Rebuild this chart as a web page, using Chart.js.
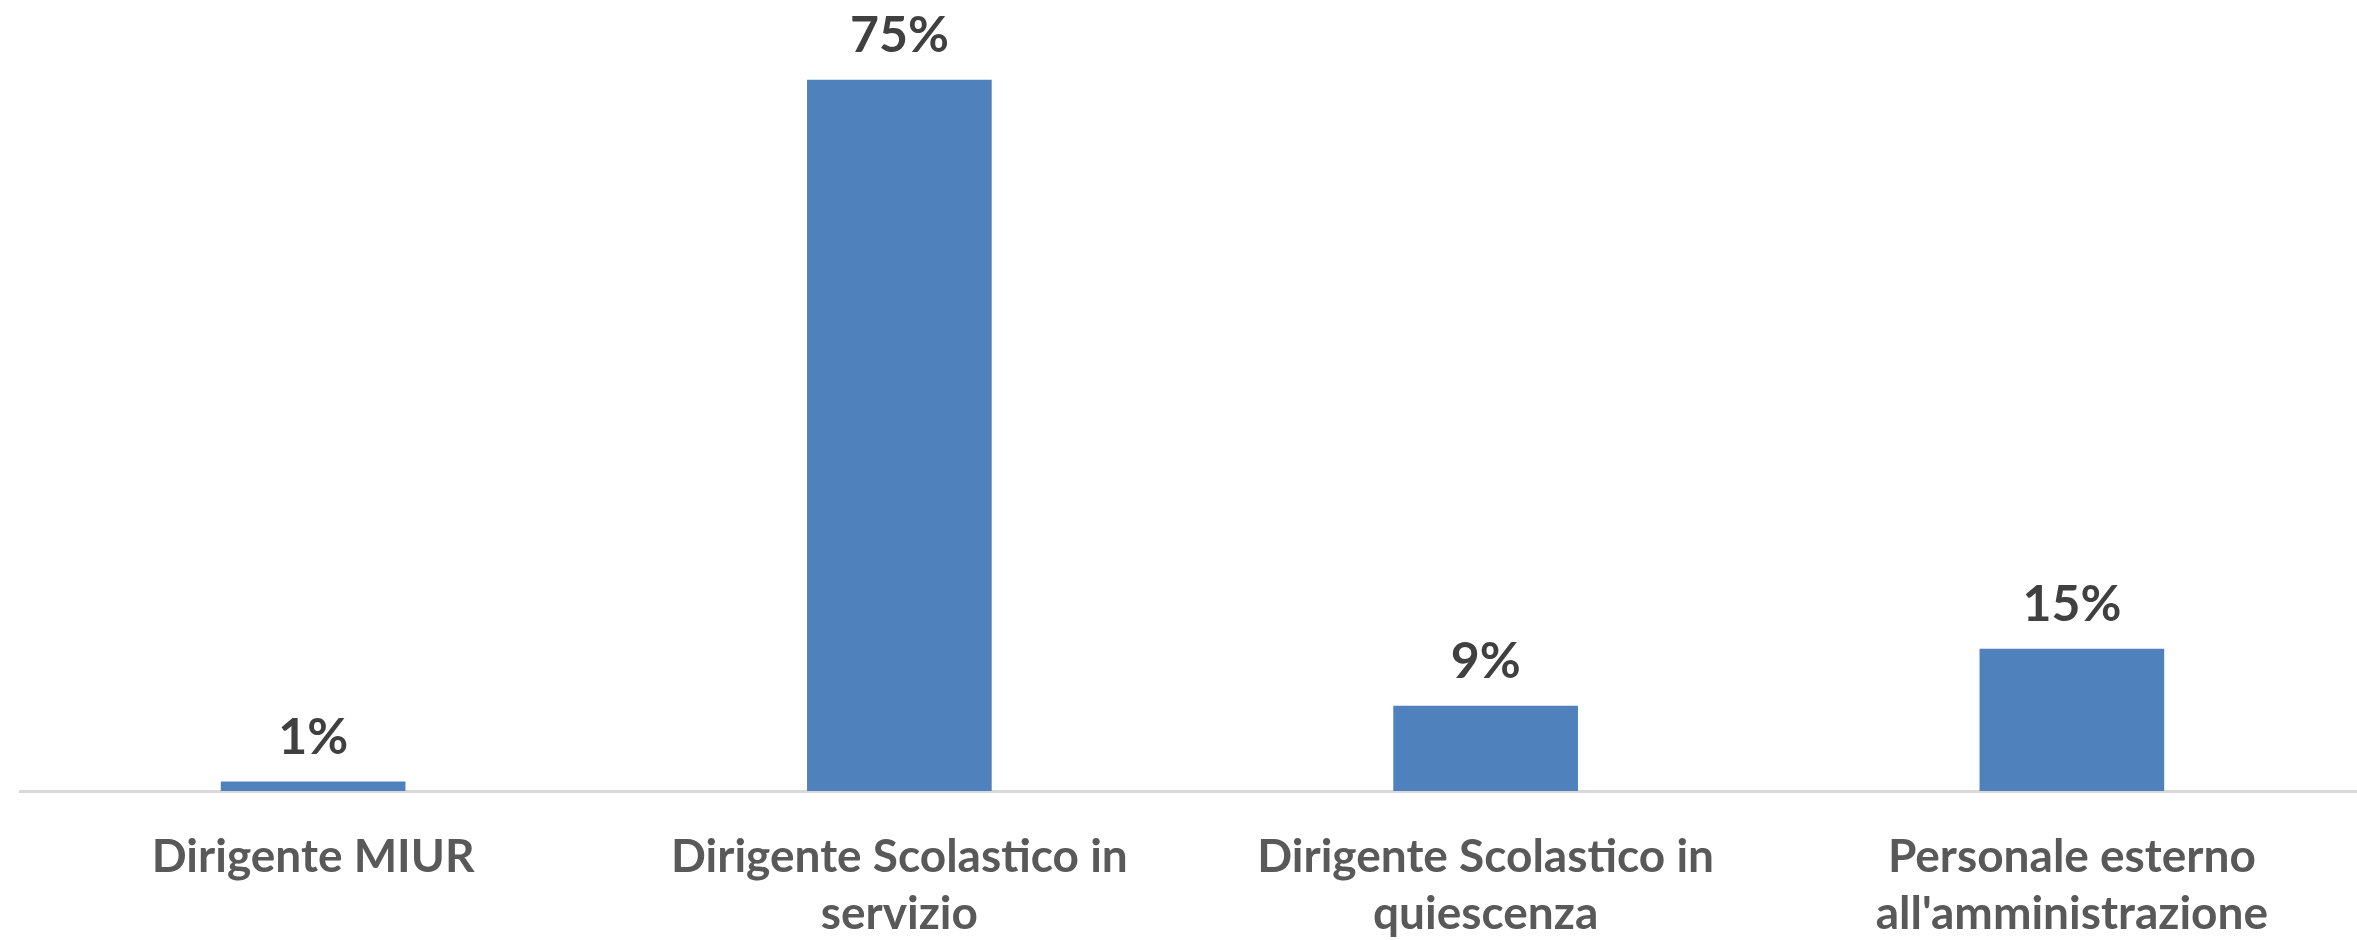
<!DOCTYPE html>
<html>
<head>
<meta charset="utf-8">
<script src="https://cdn.jsdelivr.net/npm/chart.js@4"></script>
<style>
html,body{margin:0;padding:0;background:#fff;overflow:hidden;}
#wrap{width:2357px;height:940px;position:relative;overflow:hidden;}
</style>
</head>
<body>
<div id="wrap"><canvas id="c" width="2365" height="980"></canvas></div>
<script>
const categories = [
  ["Dirigente MIUR"],
  ["Dirigente Scolastico in", "servizio"],
  ["Dirigente Scolastico in", "quiescenza"],
  ["Personale esterno", "all'amministrazione"]
];
const values = [1, 75, 9, 15];
const valueLabels = ["1%", "75%", "9%", "15%"];

const FONT = "Lato, 'Open Sans', sans-serif";

const valueLabelPlugin = {
  id: 'valueLabels',
  afterDatasetsDraw(chart) {
    const ctx = chart.ctx;
    const meta = chart.getDatasetMeta(0);
    ctx.save();
    ctx.font = "bold 50px " + FONT;
    ctx.fillStyle = "#404040";
    ctx.textAlign = "center";
    ctx.textBaseline = "alphabetic";
    meta.data.forEach((bar, i) => {
      ctx.fillText(valueLabels[i], bar.x, bar.y - 28);
    });
    ctx.restore();
  }
};

new Chart(document.getElementById('c'), {
  type: 'bar',
  data: {
    labels: categories,
    datasets: [{
      data: values,
      backgroundColor: '#4F81BD',
      borderWidth: 0,
      barPercentage: 0.315,
      categoryPercentage: 1.0
    }]
  },
  options: {
    responsive: false,
    animation: false,
    layout: { padding: { left: 20, right: 0, top: 0, bottom: 0 } },
    plugins: { legend: { display: false }, tooltip: { enabled: false } },
    scales: {
      x: {
        grid: { display: false, drawTicks: false },
        border: { display: true, color: '#d9d9d9', width: 3 },
        ticks: {
          color: '#595959',
          font: { family: FONT, size: 46, weight: 'bold', lineHeight: 1.25 },
          padding: 37,
          maxRotation: 0,
          autoSkip: false
        }
      },
      y: {
        display: false,
        min: 0,
        max: 83.4
      }
    }
  },
  plugins: [valueLabelPlugin]
});
</script>
</body>
</html>
